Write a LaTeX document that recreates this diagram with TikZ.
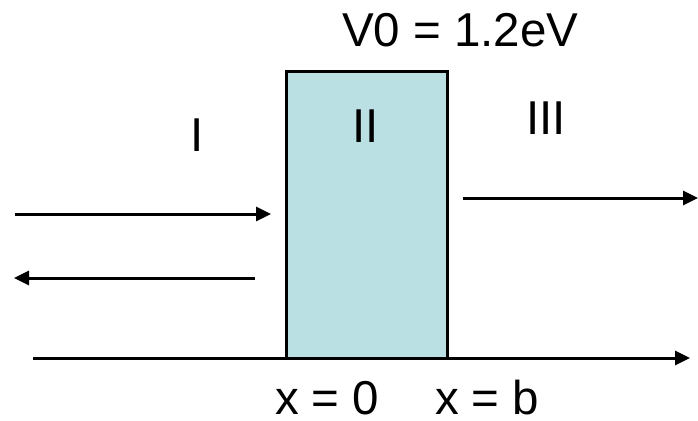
\documentclass[tikz,border=0pt]{standalone}
\usepackage{fontspec}
\setmainfont{Liberation Sans}
\usetikzlibrary{arrows.meta}
\definecolor{barrierfill}{HTML}{BBE0E3}
\tikzset{
  lbl/.style={anchor=base west, inner sep=0pt, outer sep=0pt, font=\fontsize{47.5}{57}\selectfont},
  ray/.style={line width=3pt, -{Triangle[length=15pt,width=14pt]}},
  barrierbox/.style={draw, line width=3pt, fill=barrierfill}
}
\begin{document}
\begin{tikzpicture}[x=1pt,y=-1pt]
\useasboundingbox (0,0) rectangle (698,420);
\coordinate (axL) at (33,358);
\coordinate (axR) at (690,358);
\draw[ray] (axL) -- (axR);
\draw[barrierbox] (286,71) rectangle (447,358);
\coordinate (inS) at (15,214);
\coordinate (inE) at (271,214);
\coordinate (reS) at (255,278);
\coordinate (reE) at (14,278);
\coordinate (trS) at (463,198);
\coordinate (trE) at (698,198);
\draw[ray] (inS) -- (inE);
\draw[ray] (reS) -- (reE);
\draw[ray] (trS) -- (trE);
\node[lbl] (v0) at (342,47) {V0 = 1.2eV};
\node[lbl] (r1) at (190.5,151) {I};
\node[lbl] (r2) at (352.5,142) {II};
\node[lbl] (r3) at (526.5,134) {III};
\node[lbl] (x0) at (275,414) {x = 0};
\node[lbl] (xb) at (435,414) {x = b};
\end{tikzpicture}
\end{document}
